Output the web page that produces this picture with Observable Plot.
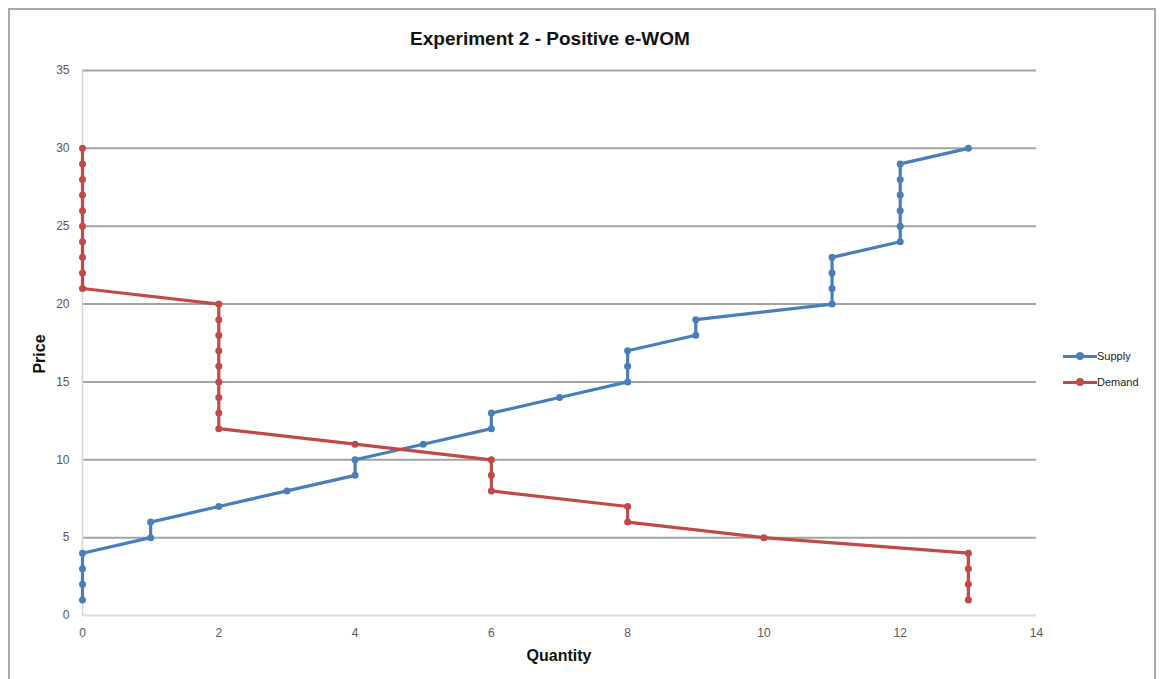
<!DOCTYPE html>
<html>
<head>
<meta charset="utf-8">
<script src="https://cdn.jsdelivr.net/npm/d3@7"></script>
<script src="https://cdn.jsdelivr.net/npm/@observablehq/plot@0.6"></script>
<style>
  html, body { margin: 0; padding: 0; background: #fff; }
  #wrap { position: relative; width: 1163px; height: 679px; overflow: hidden; font-family: "Liberation Sans", Arial, sans-serif; }
  #frame { position: absolute; left: 8px; top: 8px; width: 1148px; height: 700px; border: 2px solid #a8a8a8; box-sizing: border-box; }
  #title { position: absolute; top: 28px; left: 0; width: 1100px; text-align: center; font-weight: bold; font-size: 19px; color: #111; }
  #xlabel { position: absolute; top: 647px; left: 459px; width: 200px; text-align: center; font-weight: bold; font-size: 16px; color: #111; }
  #ylabel { position: absolute; left: 40px; top: 345px; transform: translate(-50%, 0) rotate(-90deg); transform-origin: center; font-weight: bold; font-size: 16px; color: #111; }
  #legend { position: absolute; left: 1063px; top: 343px; font-size: 11px; color: #222; }
  .li { display: flex; align-items: center; height: 26px; }
  .sw { position: relative; width: 34px; height: 10px; margin-right: 0px; }
  .sw .ln { position: absolute; left: 0; top: 4px; width: 34px; height: 3px; }
  .sw .dt { position: absolute; left: 13px; top: 1px; width: 8px; height: 8px; border-radius: 50%; }
  #chart { position: absolute; left: 0; top: 0; }
</style>
</head>
<body>
<div id="wrap">
  <div id="frame"></div>
  <div id="chart"></div>
  <div id="title">Experiment 2 - Positive e-WOM</div>
  <div id="xlabel">Quantity</div>
  <div id="ylabel">Price</div>
  <div id="legend"></div>
</div>
<script>
const seriesNames = ["Supply", "Demand"];
const seriesColors = ["#4a7ebb", "#be4b48"];

const supplyQuantity = [0, 0, 0, 0, 1, 1, 2, 3, 4, 4, 5, 6, 6, 7, 8, 8, 8, 9, 9, 11, 11, 11, 11, 12, 12, 12, 12, 12, 12, 13];
const supplyPrice    = [1, 2, 3, 4, 5, 6, 7, 8, 9, 10, 11, 12, 13, 14, 15, 16, 17, 18, 19, 20, 21, 22, 23, 24, 25, 26, 27, 28, 29, 30];

const demandQuantity = [0, 0, 0, 0, 0, 0, 0, 0, 0, 0, 2, 2, 2, 2, 2, 2, 2, 2, 2, 4, 6, 6, 6, 8, 8, 10, 13, 13, 13, 13];
const demandPrice    = [30, 29, 28, 27, 26, 25, 24, 23, 22, 21, 20, 19, 18, 17, 16, 15, 14, 13, 12, 11, 10, 9, 8, 7, 6, 5, 4, 3, 2, 1];

const xTicks = [0, 2, 4, 6, 8, 10, 12, 14];
const yTicks = [0, 5, 10, 15, 20, 25, 30, 35];

const data = [
  ...supplyQuantity.map((q, i) => ({series: "Supply", q, p: supplyPrice[i]})),
  ...demandQuantity.map((q, i) => ({series: "Demand", q, p: demandPrice[i]}))
];

const chart = Plot.plot({
  width: 1163,
  height: 679,
  marginLeft: 82,
  marginRight: 127,
  marginTop: 70,
  marginBottom: 64,
  style: { fontFamily: "'Liberation Sans', Arial, sans-serif", fontSize: "12px", background: "transparent", color: "#595959" },
  x: { domain: [0, 14], ticks: xTicks, label: null },
  y: { domain: [0, 35], ticks: yTicks, label: null },
  color: { domain: seriesNames, range: seriesColors },
  marks: [
    Plot.ruleY(yTicks.filter(d => d > 0), { stroke: "#a3a3a3", strokeWidth: 2 }),
    Plot.ruleY([0], { stroke: "#dadada", strokeWidth: 2 }),
    Plot.ruleX([0], { y1: 0, y2: 35, stroke: "#d6d6d6", strokeWidth: 1.5 }),
    Plot.axisX({ ticks: xTicks, tickSize: 0, tickPadding: 13, fill: "#595959", label: null }),
    Plot.axisY({ ticks: yTicks, tickSize: 0, tickPadding: 13, fill: "#595959", label: null }),
    Plot.line(data, { x: "q", y: "p", z: "series", stroke: "series", strokeWidth: 3.2, curve: "linear" }),
    Plot.dot(data, { x: "q", y: "p", fill: "series", r: 3.5 })
  ]
});
document.getElementById("chart").appendChild(chart);

const legend = document.getElementById("legend");
seriesNames.forEach((name, i) => {
  const row = document.createElement("div");
  row.className = "li";
  row.innerHTML = `<div class="sw"><div class="ln" style="background:${seriesColors[i]}"></div><div class="dt" style="background:${seriesColors[i]}"></div></div><span>${name}</span>`;
  legend.appendChild(row);
});
</script>
</body>
</html>
